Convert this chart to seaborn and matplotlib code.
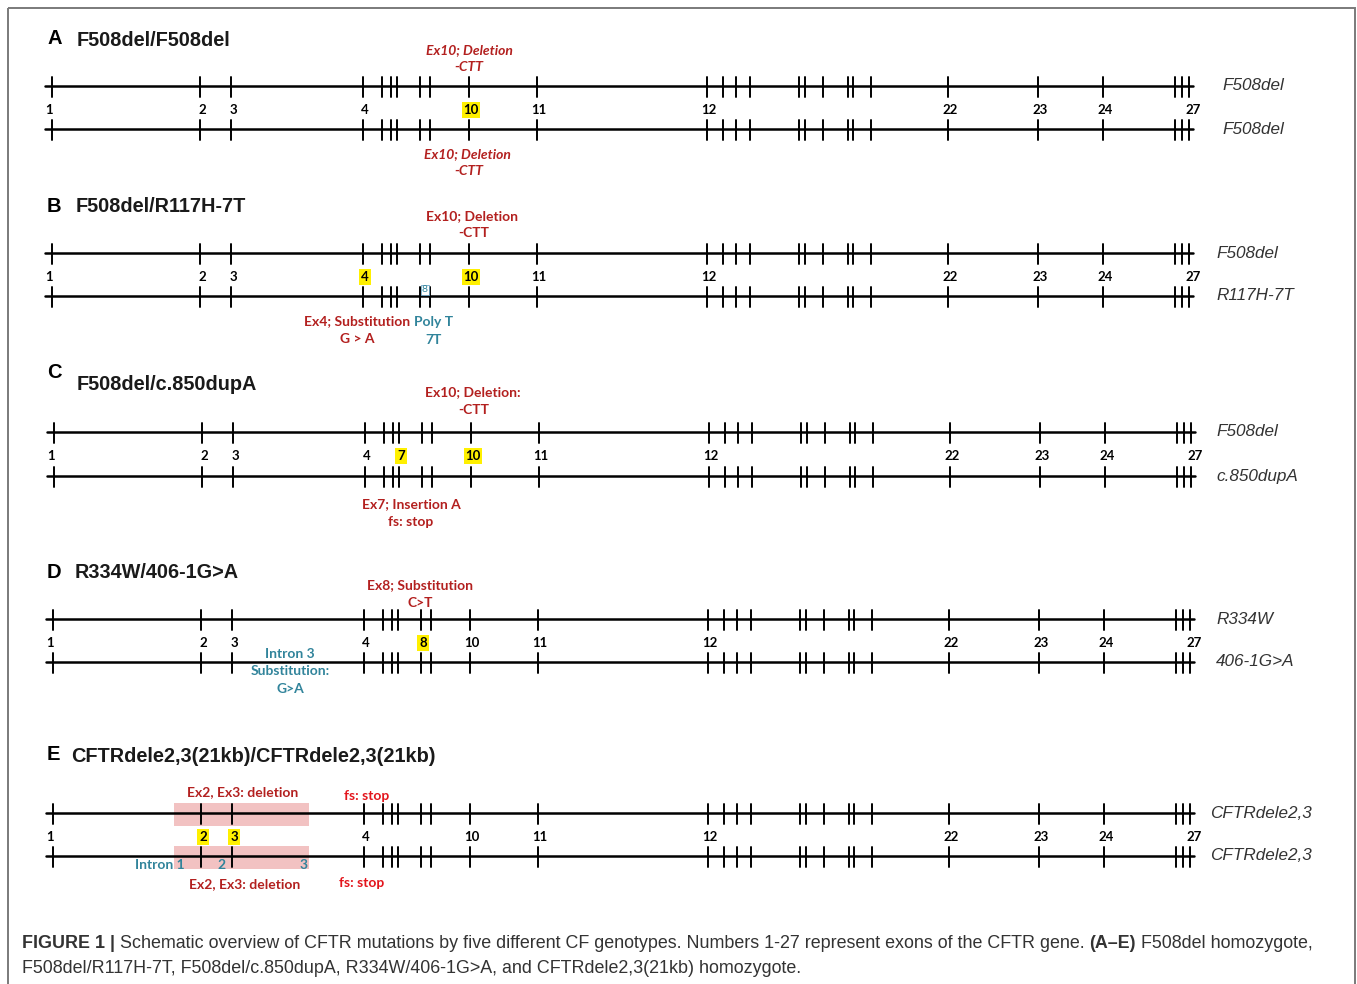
import matplotlib
matplotlib.use("Agg")
import matplotlib.pyplot as plt
from matplotlib.patches import Rectangle
import pandas as pd
import seaborn as sns

# exon positions along the schematic gene (px from the left edge), exons 1..27
exon_pos = [52, 200, 231, 363, 382, 391, 397, 420, 430, 469, 537,
            707, 723, 736, 750, 799, 805, 823, 848, 853, 871,
            948, 1038, 1103, 1175, 1182, 1189]
numbered_exons = [1, 2, 3, 4, 10, 11, 12, 22, 23, 24, 27]

panel_letters = ["A", "B", "C", "D", "E"]
genotypes = ["F508del/F508del", "F508del/R117H-7T", "F508del/c.850dupA",
             "R334W/406-1G>A", "CFTRdele2,3(21kb)/CFTRdele2,3(21kb)"]
allele_top = ["F508del", "F508del", "F508del", "R334W", "CFTRdele2,3"]
allele_bottom = ["F508del", "R117H-7T", "c.850dupA", "406-1G>A", "CFTRdele2,3"]
extra_numbered = [[], [], [7], [8], []]
highlighted = [[10], [4, 10], [7, 10], [8], [2, 3]]

# mutation notes: panel, text, kind (exon = red, intron = teal, stop = bright red)
notes = [
    (0, "Ex10; Deletion", "exon"), (0, "-CTT", "exon"),
    (0, "Ex10; Deletion", "exon"), (0, "-CTT", "exon"),
    (1, "Ex10; Deletion", "exon"), (1, "-CTT", "exon"),
    (1, "Ex4; Substitution", "exon"), (1, "G > A", "exon"),
    (1, "Poly T", "intron"), (1, "7T", "intron"),
    (2, "Ex10; Deletion:", "exon"), (2, "-CTT", "exon"),
    (2, "Ex7; Insertion A", "exon"), (2, "fs: stop", "exon"),
    (3, "Ex8; Substitution", "exon"), (3, "C>T", "exon"),
    (3, "Intron 3", "intron"), (3, "Substitution:", "intron"), (3, "G>A", "intron"),
    (4, "Ex2, Ex3: deletion", "exon"), (4, "fs: stop", "stop"),
    (4, "Ex2, Ex3: deletion", "exon"), (4, "fs: stop", "stop"),
    (4, "Intron 1", "intron"), (4, "2", "intron"), (4, "3", "intron"),
]

caption_1 = [("FIGURE 1 | ", "bold"),
             ("Schematic overview of CFTR mutations by five different CF genotypes. "
              "Numbers 1-27 represent exons of the CFTR gene. ", "normal"),
             ("(A\u2013E)", "bold"), (" F508del homozygote,", "normal")]
caption_2 = ("F508del/R117H-7T, F508del/c.850dupA, R334W/406-1G>A, "
             "and CFTRdele2,3(21kb) homozygote.")

# ---- layout (pixels) ----
W, H = 1357, 984
line_y = [(86, 129), (253, 296), (432, 476), (619, 662), (813, 856)]
num_y = [110, 277, 456, 643, 837]
x_shift = [0, 0, 2, 1, 1]
letter_y = [38, 206, 372, 572, 755]
title_pos = [(77, 40), (76, 207), (77, 384), (75, 573), (71, 757)]
allele_x = [1222, 1216, 1216, 1216, 1210]
note_pos = [(469, 50), (469, 67), (467, 154), (469, 171),
            (472, 216), (474, 233), (357, 321), (357, 339), (434, 322), (434, 340),
            (473, 392), (474, 410), (411, 504), (411, 522),
            (420, 585), (420, 603), (290, 654), (290, 671), (290, 689),
            (243, 792), (367, 796), (245, 884), (362, 883),
            (160, 865), (222, 865), (304, 865)]
note_colors = {"exon": "#B3201F", "intron": "#31849B", "stop": "#E3151C"}
label_nudge = {1: -3, 27: 4}

sns.set_style("white")
plt.rcParams["font.family"] = ["Liberation Sans", "DejaVu Sans"]

fig = plt.figure(figsize=(W / 100, H / 100), dpi=100)
ax = fig.add_axes([0, 0, 1, 1])

# build backbone and exon tick segments
backbone, ticks = [], []
for p, (y1, y2) in enumerate(line_y):
    for k, y in enumerate((y1, y2)):
        sid = f"{p}-{k}"
        backbone += [(sid, 45 + x_shift[p], y), (sid, 1193 + x_shift[p], y)]
        for e, x in enumerate(exon_pos):
            tid = f"{sid}-{e}"
            ticks += [(tid, x + x_shift[p], y - 9), (tid, x + x_shift[p], y + 11)]
df_back = pd.DataFrame(backbone, columns=["seg", "x", "y"])
df_tick = pd.DataFrame(ticks, columns=["seg", "x", "y"])

# pink deleted region in panel E
for y in line_y[4]:
    ax.add_patch(Rectangle((174, y - 10), 135, 23, facecolor="#EFB3B3",
                           edgecolor="none", alpha=0.8, zorder=0))

sns.lineplot(data=df_back, x="x", y="y", units="seg", estimator=None, sort=False,
             color="black", linewidth=1.8, ax=ax)
sns.lineplot(data=df_tick, x="x", y="y", units="seg", estimator=None, sort=False,
             color="black", linewidth=1.4, ax=ax)

for p in range(5):
    ax.text(47, letter_y[p], panel_letters[p], fontsize=14.5, fontweight="bold",
            ha="left", va="center", color="black")
    tx, ty = title_pos[p]
    ax.text(tx, ty, genotypes[p], fontsize=14.3, fontweight="bold",
            ha="left", va="center", color="#1a1a1a")
    for y, name in zip(line_y[p], (allele_top[p], allele_bottom[p])):
        ax.text(allele_x[p], y, name, fontsize=12.3, fontstyle="italic",
                ha="left", va="center", color="#333333")
    for n in sorted(numbered_exons + extra_numbered[p]):
        x = exon_pos[n - 1] + x_shift[p] + label_nudge.get(n, 2)
        box = None
        if n in highlighted[p]:
            box = dict(facecolor="#FFF000", edgecolor="none", pad=1.2)
        ax.text(x, num_y[p], str(n), fontsize=9.5, fontweight="bold",
                family=["Lato", "DejaVu Sans"], ha="center", va="center",
                color="black", bbox=box)

# small boxed "8" marking the poly-T tract in panel B
ax.text(425, 290, "8", fontsize=7.5, color="#31849B", ha="center", va="center",
        family=["Lato", "DejaVu Sans"],
        bbox=dict(facecolor="none", edgecolor="#6FA8C8", linewidth=0.6, pad=0.6))

for (p, text, kind), (x, y) in zip(notes, note_pos):
    ax.text(x, y, text, fontsize=10, fontweight="bold",
            fontstyle="italic" if p == 0 else "normal",
            family=["Lato", "DejaVu Sans"], color=note_colors[kind],
            ha="center", va="center")

# caption, pieces laid out one after another
cap_size = 12.9
prev = ax.text(22, 948, caption_1[0][0], fontsize=cap_size, fontweight="bold",
               color="#333333", ha="left", va="baseline")
for text, weight in caption_1[1:]:
    prev = ax.annotate(text, xy=(1, 0), xycoords=prev, fontsize=cap_size,
                       fontweight=weight, color="#333333", ha="left", va="bottom")
ax.text(22, 973, caption_2, fontsize=cap_size, color="#333333", ha="left", va="baseline")

# frame around the figure
ax.add_patch(Rectangle((8, 8), 1347, 1000, facecolor="none", edgecolor="#7a7a7a",
                       linewidth=1.4, zorder=5))

ax.set_xlim(0, W)
ax.set_ylim(H, 0)
ax.set_axis_off()
fig.savefig("out.png", dpi=100)
